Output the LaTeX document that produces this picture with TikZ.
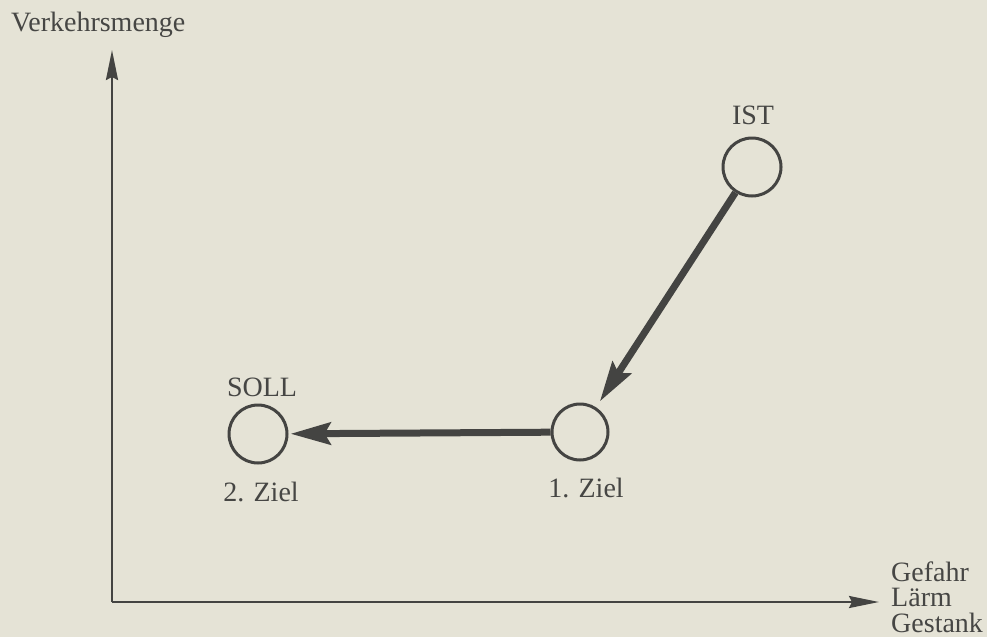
\documentclass[tikz,border=0pt]{standalone}
\usepackage{fontspec}
\setmainfont{Liberation Serif}
\usetikzlibrary{arrows.meta}
\definecolor{paper}{RGB}{229,227,214}
\definecolor{ink}{RGB}{68,68,66}
\definecolor{txt}{RGB}{70,70,68}
\tikzset{
  axisline/.style={draw=ink, line width=2.2pt, -{Stealth[length=30pt,width=12pt,inset=3pt]}},
  flow/.style={draw=ink, line width=7pt, -{Stealth[length=40pt,width=22pt,inset=6pt]}},
  state/.style={circle, draw=ink, line width=3pt, inner sep=0pt},
  lbl/.style={text=txt, font=\fontsize{28}{28}\selectfont, inner sep=0pt}
}
\begin{document}
\begin{tikzpicture}[x=1pt,y=-1pt]
\fill[paper] (0,0) rectangle (987,637);
\useasboundingbox (0,0) rectangle (987,637);
% axes
\coordinate (o) at (112,602);
\coordinate (ytip) at (112,50);
\coordinate (xtip) at (879,602);
\draw[axisline] (o) -- (ytip);
\draw[axisline] (o) -- (xtip);
\node[lbl, anchor=west] (ylab) at (11,25) {Verkehrsmenge};
\node[lbl, anchor=west, align=left, font=\fontsize{28}{25.5}\selectfont] (xlab) at (891,597) {Gefahr\\Lärm\\Gestank};
% states
\node[state, minimum size=58pt] (ist) at (752,167) {};
\node[state, minimum size=56pt] (z1) at (580,432) {};
\node[state, minimum size=58pt] (soll) at (258,434) {};
\node[lbl] (istlab) at (753,115) {IST};
\node[lbl] (solllab) at (262,387) {SOLL};
\node[lbl] (z2lab) at (261,492) {2. Ziel};
\node[lbl] (z1lab) at (586,488) {1. Ziel};
% transitions
\draw[flow, shorten >=7pt] (ist) -- (z1);
\draw[flow, shorten >=2pt] (z1) -- (soll);
\end{tikzpicture}
\end{document}
